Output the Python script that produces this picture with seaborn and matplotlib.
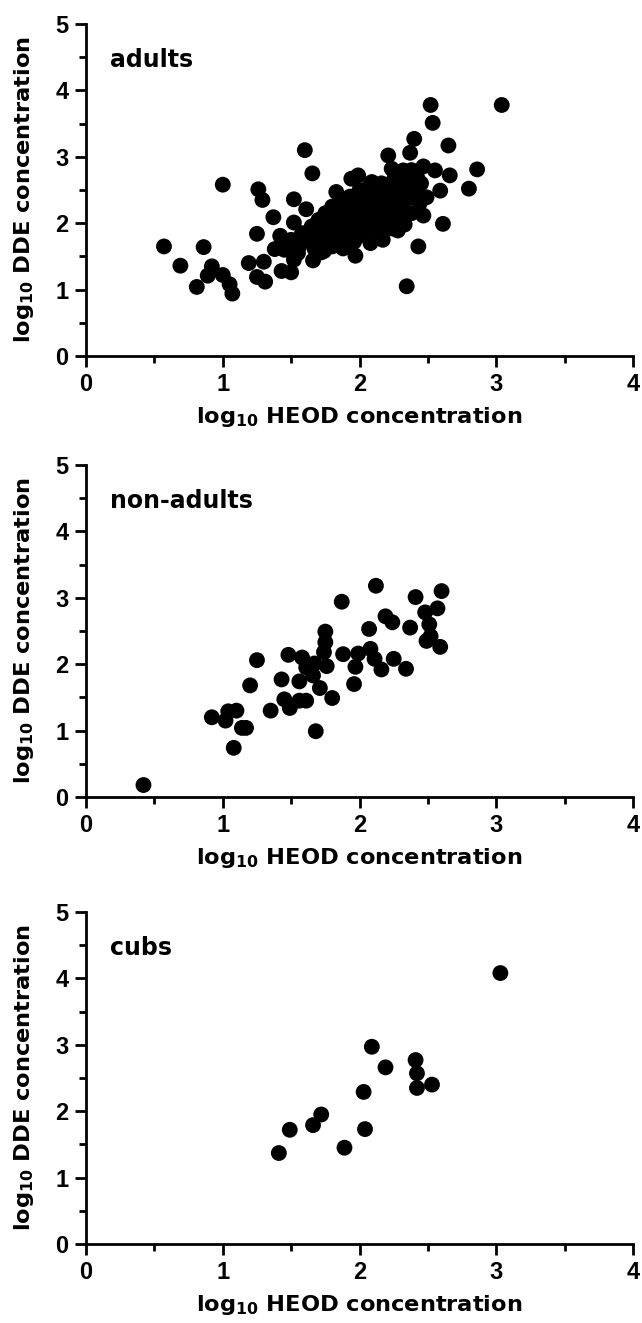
import matplotlib
matplotlib.use("Agg")
import matplotlib.pyplot as plt
from matplotlib.ticker import MultipleLocator
import pandas as pd
import seaborn as sns

# log10 HEOD (x) and log10 DDE (y) concentrations per age group
adults_heod = [
    0.57, 0.69, 0.86, 0.81, 0.92, 0.89, 1.00, 1.05, 1.07, 1.00,
    1.19, 1.25, 1.31, 1.30, 1.25, 1.26, 1.29, 1.37, 1.38, 1.42,
    1.43, 1.50, 1.52, 1.52, 1.60, 1.655, 1.61, 1.66, 1.72, 1.86,
    1.83, 1.94, 1.99, 2.09, 2.125, 2.26, 2.39, 1.97, 2.17, 2.21,
    2.235, 2.32, 2.37, 2.40, 2.535, 2.65, 2.467, 2.552, 2.66, 2.59,
    2.49, 2.467, 2.61, 2.28, 2.43, 2.345, 2.52, 3.04, 2.86, 2.80,
    1.48, 1.477, 1.56, 1.74, 1.686, 1.765,
    1.62, 1.65, 1.67, 1.70, 1.70, 1.72, 1.74, 1.75, 1.77, 1.78,
    1.80, 1.80, 1.82, 1.83, 1.85, 1.86, 1.88, 1.88, 1.90, 1.92,
    1.93, 1.95, 1.96, 1.97, 1.99, 2.00, 2.01, 2.03, 2.04, 2.06,
    2.07, 2.08, 2.10, 2.11, 2.12, 2.14, 2.15, 2.16, 2.18, 2.19,
    2.21, 2.22, 2.24, 2.25, 2.26, 2.28, 2.30, 2.31, 2.33, 2.35,
    2.36, 2.38, 2.40, 2.42, 2.44, 1.45, 1.50, 1.55, 1.52, 1.58,
    1.75, 1.80, 1.85, 1.90, 1.92, 1.95, 1.98, 2.02, 2.05, 2.08,
    2.12, 2.15, 2.18, 2.20, 2.23, 2.27, 2.30, 2.33, 2.36, 1.88,
    1.78, 2.02, 2.28, 2.45, 2.38,
]
adults_dde = [
    1.65, 1.36, 1.64, 1.04, 1.35, 1.21, 1.22, 1.08, 0.94, 2.58,
    1.40, 1.19, 1.12, 1.42, 1.84, 2.51, 2.35, 2.09, 1.61, 1.81,
    1.28, 1.26, 2.01, 2.36, 3.10, 2.75, 2.21, 1.44, 1.56, 1.69,
    2.47, 2.67, 2.72, 2.62, 2.47, 2.57, 2.54, 1.51, 1.75, 3.02,
    2.82, 2.795, 3.06, 3.27, 3.51, 3.17, 2.855, 2.795, 2.72, 2.49,
    2.39, 2.115, 1.99, 1.89, 1.65, 1.05, 3.78, 3.78, 2.81, 2.52,
    1.72, 1.64, 1.66, 1.58, 1.85, 2.11,
    1.75, 1.95, 1.62, 1.85, 2.05, 1.70, 1.95, 2.15, 1.80, 2.00,
    1.65, 2.25, 1.90, 2.10, 1.78, 2.30, 2.00, 1.62, 2.18, 1.85,
    2.40, 2.05, 1.72, 2.25, 1.95, 2.50, 2.12, 1.82, 2.32, 2.02,
    2.55, 1.70, 2.20, 1.92, 2.42, 2.10, 1.82, 2.60, 2.30, 2.00,
    2.45, 2.15, 1.92, 2.65, 2.35, 2.10, 2.50, 2.25, 1.98, 2.62,
    2.38, 2.15, 2.48, 2.70, 2.30, 1.60, 1.75, 1.55, 1.45, 1.85,
    2.05, 2.10, 2.15, 2.05, 2.25, 2.30, 2.12, 2.28, 2.42, 2.35,
    2.25, 2.40, 2.50, 2.20, 2.30, 2.42, 2.35, 2.48, 2.55, 2.35,
    1.92, 1.95, 2.65, 2.60, 2.80,
]

nonadults_heod = [
    0.42, 0.92, 1.02, 1.04, 1.10, 1.14, 1.17, 1.08, 1.20, 1.25,
    1.35, 1.43, 1.45, 1.49, 1.48, 1.58, 1.56, 1.61, 1.66, 1.67,
    1.56, 1.61, 1.71, 1.80, 1.76, 1.74, 1.75, 1.75, 1.68, 1.88,
    1.87, 1.97, 1.96, 1.99, 2.08, 2.11, 2.07, 2.16, 2.12, 2.19,
    2.24, 2.25, 2.34, 2.37, 2.41, 2.48, 2.57, 2.51, 2.52, 2.49,
    2.59, 2.60,
]
nonadults_dde = [
    0.18, 1.20, 1.15, 1.29, 1.30, 1.04, 1.04, 0.74, 1.68, 2.06,
    1.30, 1.77, 1.47, 1.34, 2.14, 2.10, 1.74, 1.95, 1.83, 2.01,
    1.45, 1.45, 1.64, 1.49, 1.97, 2.18, 2.33, 2.49, 0.99, 2.15,
    2.94, 1.96, 1.70, 2.16, 2.23, 2.08, 2.53, 1.92, 3.18, 2.72,
    2.63, 2.08, 1.93, 2.55, 3.01, 2.78, 2.84, 2.60, 2.42, 2.35,
    2.26, 3.10,
]

cubs_heod = [3.03, 2.09, 2.19, 2.41, 2.42, 2.42, 2.53, 2.03, 2.04, 1.89, 1.72, 1.66, 1.49, 1.41]
cubs_dde = [4.08, 2.97, 2.66, 2.77, 2.57, 2.35, 2.40, 2.29, 1.73, 1.45, 1.95, 1.79, 1.72, 1.37]

group_names = ["adults", "non-adults", "cubs"]
x_ticks = [0, 1, 2, 3, 4]
y_ticks = [0, 1, 2, 3, 4, 5]

sns.set_theme(style="ticks")
plt.rcParams["font.family"] = ["Liberation Sans", "DejaVu Sans"]
plt.rcParams["font.weight"] = "bold"
plt.rcParams["text.color"] = "black"
plt.rcParams["axes.labelcolor"] = "black"
plt.rcParams["xtick.color"] = "black"
plt.rcParams["ytick.color"] = "black"
plt.rcParams["mathtext.fontset"] = "dejavusans"
plt.rcParams["mathtext.default"] = "bf"

groups = [
    pd.DataFrame({"heod": adults_heod, "dde": adults_dde}),
    pd.DataFrame({"heod": nonadults_heod, "dde": nonadults_dde}),
    pd.DataFrame({"heod": cubs_heod, "dde": cubs_dde}),
]

fig = plt.figure(figsize=(6.42, 13.23), dpi=100, facecolor="white")
rects = [
    (0.134, 0.7309, 0.852, 0.251),
    (0.134, 0.3976, 0.852, 0.251),
    (0.134, 0.0597, 0.852, 0.251),
]

label_font = dict(family=["DejaVu Sans"], weight="bold", size=16.2, color="black")

for rect, name, df in zip(rects, group_names, groups):
    ax = fig.add_axes(rect)
    sns.scatterplot(data=df, x="heod", y="dde", ax=ax, color="black",
                    s=130, edgecolor="none", linewidth=0, legend=False)
    ax.set_xlim(0, 4)
    ax.set_ylim(0, 5)
    ax.set_xticks(x_ticks)
    ax.set_yticks(y_ticks)
    ax.set_xticklabels([str(t) for t in x_ticks])
    ax.set_yticklabels([str(t) for t in y_ticks])
    ax.xaxis.set_minor_locator(MultipleLocator(0.5))
    ax.yaxis.set_minor_locator(MultipleLocator(0.5))
    sns.despine(ax=ax)
    for side in ("left", "bottom"):
        ax.spines[side].set_linewidth(2.0)
        ax.spines[side].set_color("black")
    ax.tick_params(which="major", length=8, width=2.0, color="black",
                   labelsize=17, pad=4.5, labelcolor="black")
    ax.tick_params(which="minor", length=5, width=2.0, color="black")
    for lab in ax.get_xticklabels() + ax.get_yticklabels():
        lab.set_fontweight("bold")
    ax.set_xlabel("log$_{10}$ HEOD concentration", fontdict=label_font, labelpad=6)
    ax.set_ylabel("log$_{10}$ DDE concentration", fontdict=label_font)
    ax.yaxis.set_label_coords(-0.092, 0.5)
    ax.text(0.044, 0.89, name, transform=ax.transAxes, ha="left", va="center",
            family=["DejaVu Sans"], weight="bold", size=17, color="black")
    ax.set_facecolor("white")

fig.savefig("out.png", dpi=100, facecolor="white")
